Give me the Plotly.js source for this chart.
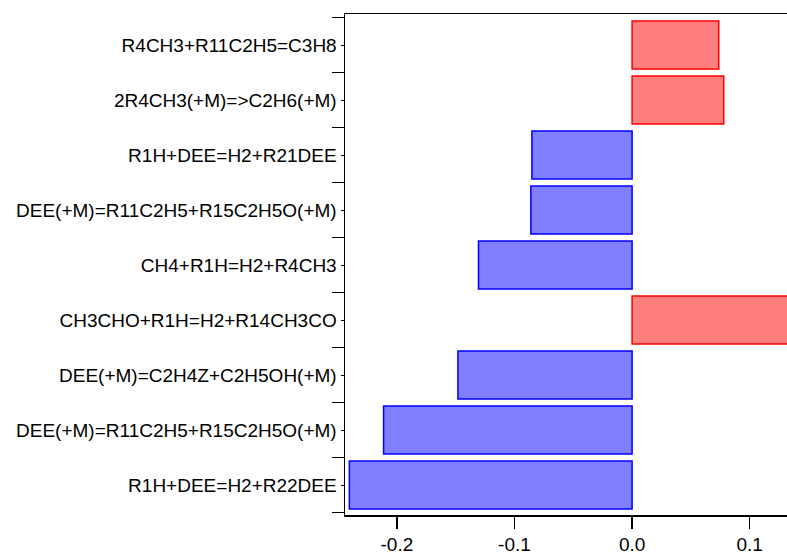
<!DOCTYPE html>
<html>
<head>
<meta charset="utf-8">
<script src="https://cdn.plot.ly/plotly-3.0.1.min.js"></script>
<style>html,body{margin:0;padding:0;background:#fff;}#chart{width:787px;height:556px;}</style>
</head>
<body>
<div id="chart"></div>
<script>
// Reactions listed bottom to top
const reactions = [
  "R1H+DEE=H2+R22DEE",
  "DEE(+M)=R11C2H5+R15C2H5O(+M)",
  "DEE(+M)=C2H4Z+C2H5OH(+M)",
  "CH3CHO+R1H=H2+R14CH3CO",
  "CH4+R1H=H2+R4CH3",
  "DEE(+M)=R11C2H5+R15C2H5O(+M)",
  "R1H+DEE=H2+R21DEE",
  "2R4CH3(+M)=>C2H6(+M)",
  "R4CH3+R11C2H5=C3H8"
];
const sensitivity = [-0.2404, -0.2113, -0.1481, 0.16, -0.1306, -0.0861, -0.0852, 0.0779, 0.0737];
const xTickVals = [-0.2, -0.1, 0.0, 0.1];
const xTickText = ["-0.2", "-0.1", "0.0", "0.1"];

const positions = reactions.map((_, i) => i);
const fillColors = sensitivity.map(v => v >= 0 ? "rgba(255,0,0,0.5)" : "rgba(0,0,255,0.5)");
const lineColors = sensitivity.map(v => v >= 0 ? "rgb(255,0,0)" : "rgb(0,0,255)");

const data = [{
  type: "bar",
  orientation: "h",
  x: sensitivity,
  y: positions,
  text: reactions,
  textposition: "none",
  width: 0.87,
  marker: {color: fillColors, line: {color: lineColors, width: 1.5}},
  hovertemplate: "%{text}: %{x}<extra></extra>",
  showlegend: false
}];

const layout = {
  width: 787, height: 556,
  margin: {l: 345, r: 0, t: 14, b: 41},
  paper_bgcolor: "#fff", plot_bgcolor: "#fff",
  font: {family: "Liberation Sans, Arial, sans-serif", color: "#000", size: 19},
  xaxis: {
    range: [-0.2441, 0.1317],
    tickmode: "array", tickvals: xTickVals, ticktext: xTickText,
    ticks: "outside", ticklen: 12, tickwidth: 1.5, tickcolor: "#000",
    showline: true, linecolor: "#000", linewidth: 1.5, mirror: true,
    showgrid: false, zeroline: false,
    tickfont: {size: 19}
  },
  yaxis: {
    range: [-0.545, 8.564],
    tickmode: "array", tickvals: positions, ticktext: reactions,
    ticks: "outside", ticklen: 3, tickwidth: 1, tickcolor: "#000",
    ticklabelstandoff: 0,
    minor: {tick0: 0.5, dtick: 1, ticks: "outside", ticklen: 12, tickwidth: 1.5, tickcolor: "#000", showgrid: false},
    showline: true, linecolor: "#000", linewidth: 1.5,
    showgrid: false, zeroline: false,
    tickfont: {size: 19}
  }
};

Plotly.newPlot("chart", data, layout, {displayModeBar: false, staticPlot: true});
</script>
</body>
</html>
